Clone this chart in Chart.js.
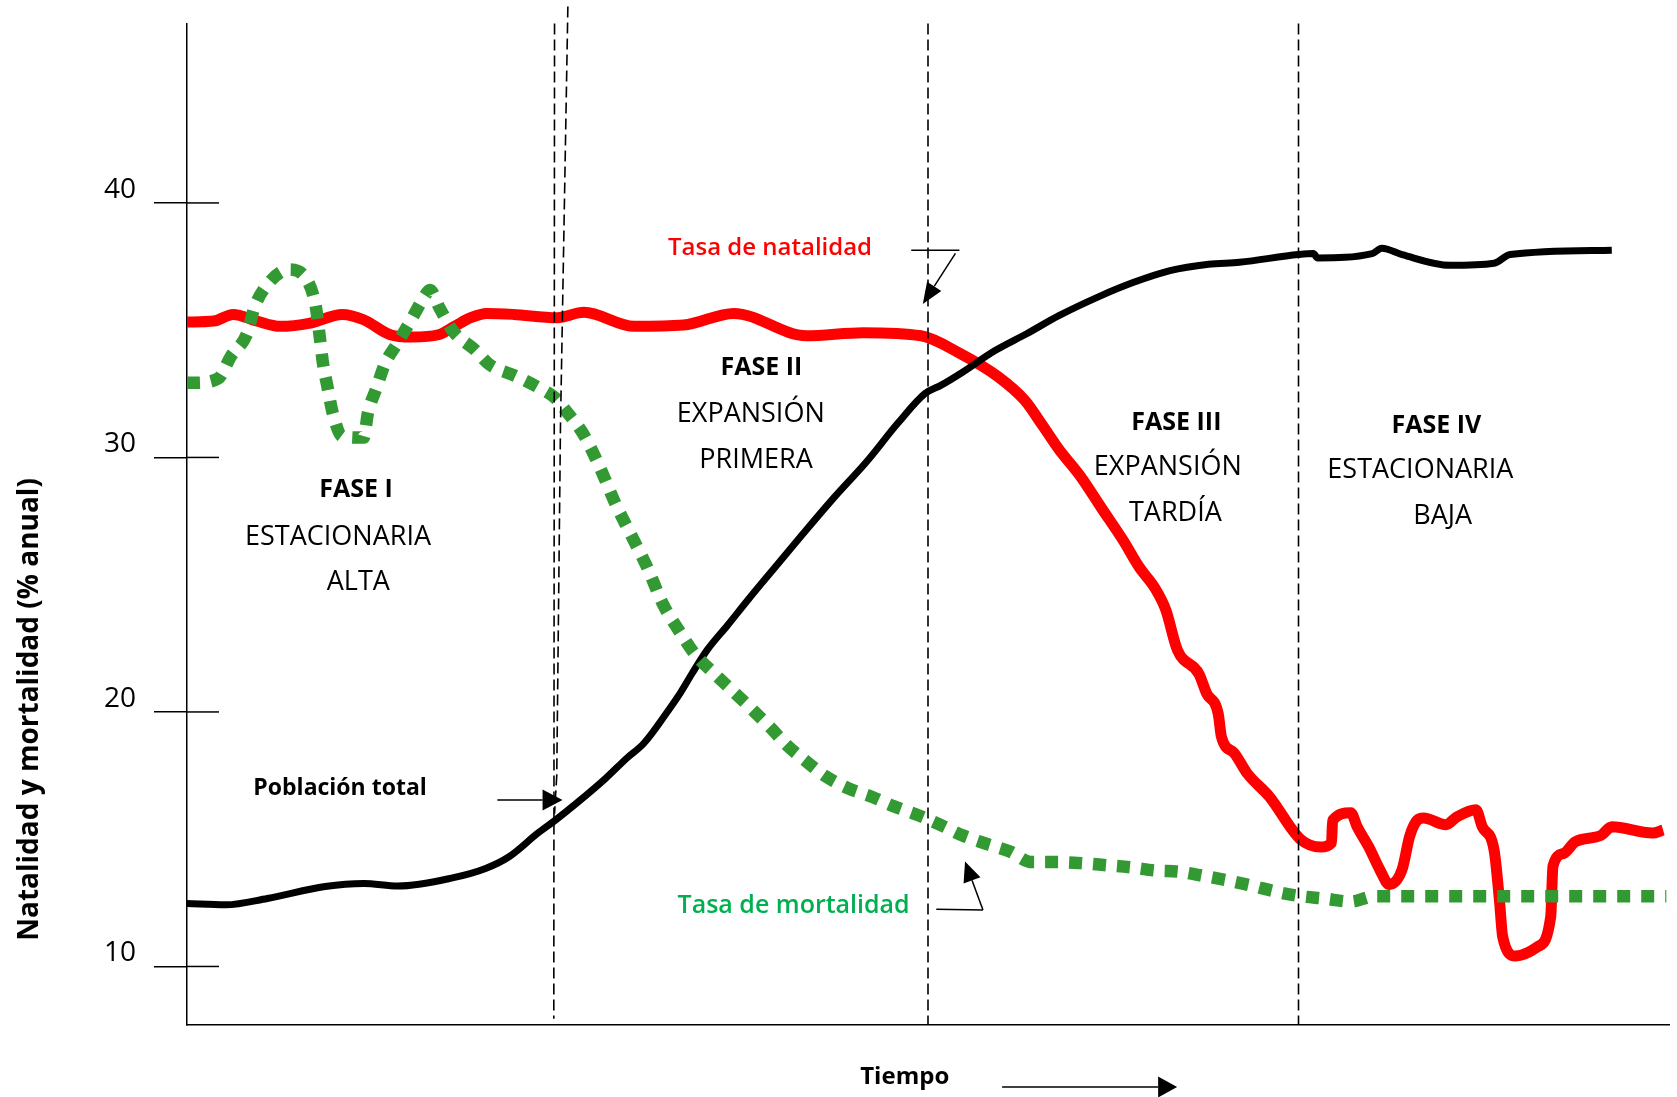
<!DOCTYPE html>
<html lang="es">
<head>
<meta charset="utf-8">
<title>Transición demográfica</title>
<script src="https://cdn.jsdelivr.net/npm/chart.js@4.4.1/dist/chart.umd.min.js"></script>
<style>
  html, body { margin: 0; padding: 0; background: #fff; }
  #wrap { width: 1677px; height: 1097px; position: relative; }
</style>
</head>
<body>
<div id="wrap"><canvas id="chart"></canvas></div>
<script>
// Tiempo en unidades arbitrarias (0-100), tasas en % anual
const natalidadX = [0, 1.82, 3.11, 4.70, 6.29, 8.31, 10.48, 11.92, 13.72, 15.17, 16.97, 18.05, 19.14, 20.22, 22.02, 24.98, 26.78, 30.18, 33.50, 36.89, 41.80, 45.62, 49.52, 52.12, 54.71, 56.52, 57.74, 58.83, 60.27, 61.71, 63.16, 64.24, 65.32, 66.04, 66.84, 68.28, 68.79, 69.58, 69.80, 70.66, 71.53, 73.04, 75.14, 76.51, 77.23, 77.30, 78.53, 78.96, 79.75, 80.48, 81.13, 81.99, 82.50, 83.00, 83.44, 84.95, 85.67, 86.97, 87.40, 88.20, 88.56, 88.78, 89.64, 91.16, 92.02, 92.17, 92.89, 93.68, 95.41, 96.14, 98.88, 99.60];
const natalidadY = [35.32, 35.36, 35.62, 35.36, 35.15, 35.28, 35.62, 35.41, 34.82, 34.73, 34.82, 35.15, 35.49, 35.66, 35.62, 35.49, 35.70, 35.15, 35.20, 35.66, 34.78, 34.90, 34.78, 34.10, 33.18, 32.25, 31.25, 30.32, 29.27, 28.01, 26.75, 25.70, 24.86, 24.02, 22.42, 21.50, 20.74, 19.94, 19.02, 18.39, 17.59, 16.67, 14.99, 14.69, 14.86, 15.74, 16.04, 15.49, 14.69, 13.81, 13.22, 13.81, 15.11, 15.74, 15.83, 15.57, 15.87, 16.16, 15.49, 14.57, 12.59, 11.16, 10.41, 10.78, 11.96, 13.94, 14.44, 14.90, 15.15, 15.49, 15.24, 15.36];

const mortalidadX = [0, 0.44, 2.10, 2.97, 4.05, 4.56, 5.42, 6.87, 8.02, 8.67, 8.96, 9.18, 9.47, 9.83, 10.48, 11.92, 12.21, 12.78, 13.36, 14.23, 15.17, 16.03, 16.39, 17.04, 17.98, 19.42, 20.43, 22.09, 23.68, 24.84, 25.63, 26.71, 27.80, 28.88, 29.96, 31.04, 32.12, 33.21, 34.29, 35.59, 36.74, 38.04, 39.34, 40.50, 41.80, 43.09, 44.61, 46.20, 47.71, 49.30, 50.82, 52.33, 53.92, 55.50, 57.02, 58.68, 60.34, 62.00, 63.73, 65.32, 66.98, 68.57, 70.14, 71.81, 73.55, 75.14, 76.72, 78.53, 80.12, 81.70, 99.82];
const mortalidadY = [32.93, 32.93, 33.10, 33.98, 34.86, 35.91, 36.79, 37.38, 37.04, 35.99, 34.73, 33.68, 32.80, 31.75, 30.83, 30.78, 31.75, 32.72, 33.68, 34.52, 35.45, 36.33, 36.58, 35.87, 34.94, 34.23, 33.64, 33.22, 32.76, 32.34, 31.79, 30.95, 29.69, 28.22, 26.96, 25.70, 24.23, 23.18, 22.26, 21.50, 20.87, 20.15, 19.40, 18.68, 18.05, 17.47, 17.00, 16.67, 16.29, 15.95, 15.57, 15.15, 14.82, 14.52, 14.10, 14.10, 14.06, 13.98, 13.89, 13.77, 13.72, 13.56, 13.39, 13.18, 12.93, 12.76, 12.67, 12.55, 12.76, 12.76, 12.76];

const poblacionX = [0, 2.61, 5.42, 9.32, 11.92, 14.23, 17.84, 20.15, 21.73, 23.68, 24.84, 26.28, 28.23, 29.67, 30.83, 32.49, 33.28, 34.07, 35.08, 36.45, 37.90, 39.34, 41.51, 43.67, 45.84, 48.00, 49.80, 50.89, 52.33, 54.50, 56.66, 58.83, 61.57, 63.88, 66.33, 68.93, 71.02, 74.99, 76.00, 76.29, 79.97, 80.62, 81.99, 85.24, 88.20, 89.28, 96.14];
const poblacionY = [12.47, 12.42, 12.67, 13.14, 13.26, 13.16, 13.47, 13.85, 14.31, 15.24, 15.74, 16.41, 17.38, 18.18, 18.77, 20.07, 20.74, 21.50, 22.42, 23.39, 24.44, 25.45, 26.96, 28.43, 29.82, 31.37, 32.51, 32.84, 33.35, 34.19, 34.86, 35.57, 36.33, 36.88, 37.34, 37.59, 37.67, 37.97, 38.01, 37.84, 38.01, 38.22, 37.97, 37.55, 37.63, 37.97, 38.14];

const yTicks = [10, 20, 30, 40];
const limitesFase = [24.8, 50.0, 75.0];

const FONT = '"Open Sans", "DejaVu Sans", sans-serif';

// textos del gráfico (posición en unidades de los ejes)
const textos = [
  { t: 'Tasa de natalidad', x: 39.34, y: 38.22, f: '600 24px', c: '#ff0000' },
  { t: 'FASE I', x: 11.41, y: 28.73, f: '700 25px', c: '#000' },
  { t: 'ESTACIONARIA', x: 10.19, y: 26.88, f: '400 27px', c: '#000' },
  { t: 'ALTA', x: 11.56, y: 25.11, f: '400 27px', c: '#000' },
  { t: 'FASE II', x: 38.76, y: 33.52, f: '700 25px', c: '#000' },
  { t: 'EXPANSIÓN', x: 38.04, y: 31.71, f: '400 27px', c: '#000' },
  { t: 'PRIMERA', x: 38.40, y: 29.90, f: '400 27px', c: '#000' },
  { t: 'FASE III', x: 66.76, y: 31.37, f: '700 25px', c: '#000' },
  { t: 'EXPANSIÓN', x: 66.18, y: 29.61, f: '400 27px', c: '#000' },
  { t: 'TARDÍA', x: 66.69, y: 27.80, f: '400 27px', c: '#000' },
  { t: 'FASE IV', x: 84.30, y: 31.25, f: '700 25px', c: '#000' },
  { t: 'ESTACIONARIA', x: 83.22, y: 29.48, f: '400 27px', c: '#000' },
  { t: 'BAJA', x: 84.73, y: 27.67, f: '400 27px', c: '#000' },
  { t: 'Población total', x: 10.33, y: 17.00, f: '700 23px', c: '#000' },
  { t: 'Tasa de mortalidad', x: 40.93, y: 12.38, f: '600 25px', c: '#00b050' }
];

function pts(xs, ys) { return xs.map((x, i) => ({ x: x, y: ys[i] })); }

function flecha(ctx, x1, y1, x2, y2, largo, ancho) {
  const a = Math.atan2(y2 - y1, x2 - x1);
  const bx = x2 - largo * Math.cos(a), by = y2 - largo * Math.sin(a);
  ctx.beginPath(); ctx.moveTo(x1, y1); ctx.lineTo(bx, by); ctx.stroke();
  ctx.beginPath();
  ctx.moveTo(x2, y2);
  ctx.lineTo(bx + ancho / 2 * Math.sin(a), by - ancho / 2 * Math.cos(a));
  ctx.lineTo(bx - ancho / 2 * Math.sin(a), by + ancho / 2 * Math.cos(a));
  ctx.closePath(); ctx.fill();
}

const anotaciones = {
  id: 'anotaciones',
  afterDatasetsDraw(chart) {
    const { ctx, chartArea, scales: { x, y } } = chart;
    const px = v => x.getPixelForValue(v);
    const py = v => y.getPixelForValue(v);
    ctx.save();
    ctx.strokeStyle = '#000';
    ctx.fillStyle = '#000';

    // parte interior de las marcas del eje Y
    ctx.lineWidth = 1.5;
    y.ticks.forEach(t => {
      const yy = py(t.value);
      ctx.beginPath(); ctx.moveTo(chartArea.left, yy); ctx.lineTo(chartArea.left + 32, yy); ctx.stroke();
    });

    // límites de fase
    ctx.setLineDash([11, 5]);
    ctx.lineWidth = 1.6;
    ctx.beginPath();
    ctx.moveTo(px(limitesFase[0]), chartArea.top);
    ctx.lineTo(px(limitesFase[0] - 0.05), py(7.95));
    ctx.stroke();
    ctx.beginPath();
    ctx.moveTo(px(25.70), py(47.72));
    ctx.lineTo(px(25.20), py(31.2));
    ctx.lineTo(px(24.95), py(17.5));
    ctx.lineTo(px(24.80), py(16.0));
    ctx.stroke();
    [limitesFase[1], limitesFase[2]].forEach(v => {
      ctx.beginPath(); ctx.moveTo(px(v), chartArea.top); ctx.lineTo(px(v), chartArea.bottom); ctx.stroke();
    });
    ctx.setLineDash([]);

    // flechas
    ctx.lineWidth = 1.5;
    ctx.beginPath(); ctx.moveTo(px(48.87), py(38.14)); ctx.lineTo(px(52.12), py(38.14)); ctx.stroke();
    flecha(ctx, px(51.85), py(38.02), px(49.65), py(36.03), 21, 17);
    flecha(ctx, px(20.94), py(16.54), px(25.34), py(16.54), 20, 21);
    ctx.beginPath(); ctx.moveTo(px(50.56), py(12.25)); ctx.lineTo(px(53.71), py(12.22)); ctx.stroke();
    flecha(ctx, px(53.71), py(12.22), px(52.50), py(14.12), 20, 18);
    flecha(ctx, px(55.0), chartArea.bottom + 62, px(66.81), chartArea.bottom + 62, 19, 21);

    // textos
    ctx.textAlign = 'center';
    ctx.textBaseline = 'middle';
    textos.forEach(o => {
      ctx.font = o.f + ' ' + FONT;
      ctx.fillStyle = o.c;
      ctx.fillText(o.t, px(o.x), py(o.y));
    });
    ctx.fillStyle = '#000';
    ctx.font = '700 24px ' + FONT;
    ctx.fillText('Tiempo', px(48.43), chartArea.bottom + 52);

    // título del eje Y
    ctx.save();
    ctx.translate(30, py(20.1));
    ctx.rotate(-Math.PI / 2);
    ctx.font = '700 28px ' + FONT;
    ctx.fillText('Natalidad y mortalidad (% anual)', 0, 0);
    ctx.restore();

    ctx.restore();
  }
};

new Chart(document.getElementById('chart'), {
  type: 'line',
  data: {
    datasets: [
      {
        label: 'Tasa de mortalidad',
        data: pts(mortalidadX, mortalidadY),
        borderColor: '#339933',
        borderWidth: 12.5,
        borderDash: [13, 11],
        borderCapStyle: 'butt',
        order: 0
      },
      {
        label: 'Población total',
        data: pts(poblacionX, poblacionY),
        borderColor: '#000000',
        borderWidth: 7,
        order: 1
      },
      {
        label: 'Tasa de natalidad',
        data: pts(natalidadX, natalidadY),
        borderColor: '#ff0000',
        borderWidth: 11,
        borderJoinStyle: 'round',
        order: 2
      }
    ]
  },
  options: {
    responsive: true,
    maintainAspectRatio: false,
    animation: false,
    events: [],
    layout: { padding: { left: 0, right: 8, top: 23.5, bottom: 0 } },
    elements: {
      point: { radius: 0 },
      line: { cubicInterpolationMode: 'monotone', fill: false }
    },
    plugins: {
      legend: { display: false },
      tooltip: { enabled: false }
    },
    scales: {
      x: {
        type: 'linear',
        min: 0,
        max: 100,
        ticks: { display: false },
        grid: { display: false },
        border: { display: true, color: '#000', width: 1.5 },
        afterFit(scale) { scale.height = 72; scale.paddingLeft = 0; scale.paddingRight = 0; }
      },
      y: {
        min: 7.70,
        max: 47.05,
        afterBuildTicks(scale) { scale.ticks = yTicks.map(v => ({ value: v })); },
        afterFit(scale) { scale.width = 187; scale.paddingTop = 0; scale.paddingBottom = 0; },
        ticks: {
          color: '#000',
          padding: 18,
          labelOffset: -13,
          font: { family: FONT, size: 28, weight: '400' }
        },
        grid: {
          display: true,
          drawOnChartArea: false,
          drawTicks: true,
          tickLength: 33,
          color: '#000',
          lineWidth: 1.5
        },
        border: { display: true, color: '#000', width: 1.5 }
      }
    }
  },
  plugins: [anotaciones]
});
</script>
</body>
</html>
